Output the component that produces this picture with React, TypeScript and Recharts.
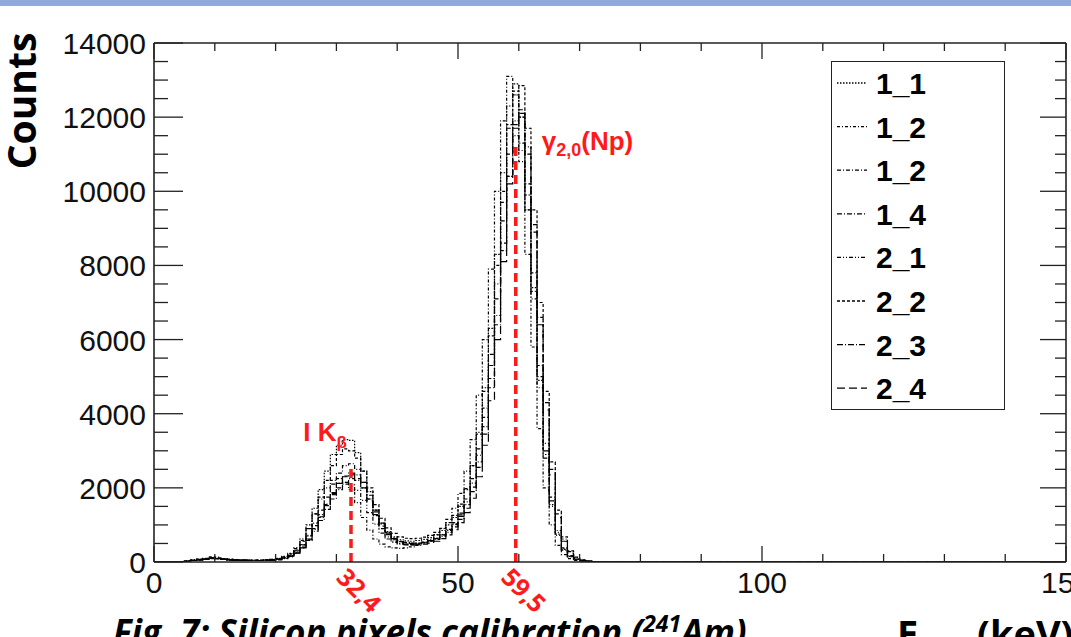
import React from "react";
import { LineChart, Line, XAxis, YAxis, ReferenceLine, Legend } from "recharts";

// Energy axis (keV): bin edges every 1 keV and tick positions
const energyTicks = [0, 10, 20, 30, 40, 50, 60, 70, 80, 90, 100, 110, 120, 130, 140, 150];
const countTicks = [
  0, 500, 1000, 1500, 2000, 2500, 3000, 3500, 4000, 4500, 5000, 5500, 6000, 6500, 7000,
  7500, 8000, 8500, 9000, 9500, 10000, 10500, 11000, 11500, 12000, 12500, 13000, 13500, 14000,
];

// Pixel names, as written in the legend
const pixelNames = ["1_1", "1_2", "1_2", "1_4", "2_1", "2_2", "2_3", "2_4"];

// Counts per 1 keV bin, bins 0..75 keV (nothing above)
const counts11 = [
  0, 0, 0, 0, 10, 30, 60, 70, 90, 120,
  100, 80, 70, 60, 50, 50, 40, 50, 60, 70,
  100, 150, 230, 380, 620, 1000, 1450, 1950, 2450, 2900,
  3150, 3300, 3280, 2950, 2450, 1900, 1400, 1050, 820, 680,
  600, 570, 560, 580, 610, 660, 740, 850, 1000, 1200,
  1500, 1950, 2600, 3500, 4700, 6300, 8300, 10500, 12300, 12900,
  12000, 9900, 7400, 4900, 2900, 1550, 750, 340, 150, 70,
  35, 20, 10, 5, 0, 0,
];
const counts12a = [
  0, 0, 0, 0, 0, 20, 40, 60, 70, 100,
  130, 90, 70, 60, 50, 40, 40, 40, 50, 50,
  70, 110, 180, 320, 560, 900, 1300, 1700, 2000, 2200,
  2250, 2150, 1950, 1600, 1200, 860, 620, 480, 410, 380,
  370, 380, 410, 450, 520, 610, 730, 900, 1150, 1450,
  1850, 2450, 3300, 4500, 6000, 7900, 10000, 11900, 13100, 12600,
  10800, 8300, 5800, 3600, 2000, 1000, 450, 200, 90, 40,
  20, 10, 5, 0, 0, 0,
];
const counts12b = [
  0, 0, 0, 0, 10, 20, 50, 60, 80, 110,
  90, 70, 60, 50, 40, 50, 40, 40, 50, 60,
  70, 110, 170, 280, 460, 720, 1050, 1400, 1750, 2100,
  2400, 2600, 2650, 2500, 2150, 1700, 1250, 900, 680, 560,
  500, 470, 470, 490, 520, 570, 640, 740, 880, 1060,
  1320, 1700, 2250, 3050, 4150, 5600, 7500, 9700, 11700, 12600,
  12000, 10200, 7800, 5300, 3200, 1750, 850, 380, 170, 80,
  40, 20, 10, 5, 0, 0,
];
const counts14 = [
  0, 0, 0, 0, 0, 20, 40, 50, 70, 90,
  80, 70, 50, 50, 40, 40, 40, 40, 40, 50,
  60, 90, 140, 230, 380, 600, 880, 1200, 1520, 1850,
  2120, 2320, 2400, 2350, 2150, 1800, 1400, 1050, 800, 650,
  570, 530, 510, 510, 530, 560, 610, 690, 800, 950,
  1150, 1450, 1900, 2550, 3450, 4700, 6400, 8400, 10400, 11800,
  12200, 11200, 9100, 6600, 4300, 2500, 1300, 620, 280, 120,
  50, 25, 10, 5, 0, 0,
];
const counts21 = [
  0, 0, 0, 0, 10, 30, 50, 70, 90, 120,
  100, 80, 60, 50, 50, 40, 50, 40, 50, 60,
  80, 120, 190, 300, 470, 700, 980, 1280, 1560, 1820,
  2000, 2100, 2080, 1930, 1660, 1330, 1020, 780, 620, 530,
  480, 460, 460, 480, 510, 560, 630, 730, 860, 1030,
  1270, 1620, 2130, 2880, 3900, 5300, 7100, 9200, 11000, 11900,
  11300, 9500, 7100, 4700, 2800, 1500, 720, 320, 140, 60,
  30, 15, 5, 0, 0, 0,
];
const counts22 = [
  0, 0, 0, 0, 10, 30, 50, 80, 100, 140,
  110, 90, 70, 60, 60, 50, 50, 50, 60, 70,
  90, 140, 220, 360, 580, 900, 1300, 1750, 2200, 2600,
  2900, 3050, 3000, 2800, 2450, 2000, 1550, 1180, 920, 770,
  680, 640, 630, 640, 670, 720, 800, 910, 1060, 1260,
  1560, 1980, 2600, 3450, 4600, 6100, 8000, 10000, 11800, 12700,
  12850, 11700, 9500, 7000, 4600, 2700, 1400, 680, 300, 130,
  60, 25, 10, 5, 0, 0,
];
const counts23 = [
  0, 0, 0, 0, 0, 20, 40, 60, 70, 100,
  90, 70, 60, 50, 40, 40, 40, 40, 40, 50,
  70, 100, 150, 240, 380, 580, 830, 1120, 1420, 1700,
  1950, 2150, 2250, 2200, 2000, 1700, 1350, 1020, 780, 630,
  550, 510, 500, 510, 540, 580, 640, 730, 850, 1010,
  1230, 1550, 2020, 2700, 3650, 4950, 6650, 8600, 10400, 11500,
  11100, 9500, 7300, 5000, 3000, 1650, 800, 360, 160, 70,
  30, 15, 5, 0, 0, 0,
];
const counts24 = [
  0, 0, 0, 0, 10, 20, 40, 60, 80, 110,
  90, 70, 60, 50, 50, 40, 40, 40, 50, 60,
  80, 110, 160, 250, 400, 620, 900, 1220, 1550, 1870,
  2120, 2300, 2350, 2250, 2000, 1650, 1280, 970, 740, 600,
  520, 480, 460, 460, 480, 510, 560, 630, 730, 870,
  1060, 1330, 1720, 2300, 3150, 4350, 6000, 8100, 10200, 11700,
  12100, 11000, 8900, 6400, 4100, 2350, 1200, 560, 240, 100,
  45, 20, 10, 5, 0, 0,
];

// Reference energies marked on the spectrum (keV) and marker heights (counts)
const kBetaEnergy = 32.4;
const kBetaLabel = "32,4";
const kBetaMarkTop = 2550;
const gammaEnergy = 59.5;
const gammaLabel = "59,5";
const gammaMarkTop = 11300;

const pixelCounts = [counts11, counts12a, counts12b, counts14, counts21, counts22, counts23, counts24];
const lineDashes = ["1.5 1.5", "3 2 1 2", "4 2 1 2", "5 2 1 2", "4 2 1 2 1 2", "3 2", "6 2 1 2", "8 4"];

const binEdges = Array.from({ length: 151 }, (_, i) => i);
const spectrum = binEdges.map((e) => {
  const row: Record<string, number> = { e };
  pixelCounts.forEach((c, k) => {
    row[`s${k}`] = c[e] ?? 0;
  });
  return row;
});

const FRAME = "#222";
const RED = "#ff1a1a";
const TICK_FONT = "'Liberation Sans', Arial, sans-serif";
const CALIBRI_LIKE = "'Open Sans', 'Noto Sans', sans-serif";

function BottomTick(props: any) {
  const { x, y, payload } = props;
  const major = payload.value % 50 === 0;
  return (
    <g>
      <line x1={x} x2={x} y1={y} y2={y - (major ? 16 : 8)} stroke={FRAME} strokeWidth={1.3} />
      {major && (
        <text x={x} y={y + 31} textAnchor="middle" fontSize={30} fontFamily={TICK_FONT} fill="#111">
          {payload.value}
        </text>
      )}
    </g>
  );
}

function TopTick(props: any) {
  const { x, y, payload } = props;
  const major = payload.value % 50 === 0;
  return <line x1={x} x2={x} y1={y} y2={y + (major ? 16 : 8)} stroke={FRAME} strokeWidth={1.3} />;
}

function LeftTick(props: any) {
  const { x, y, payload } = props;
  const major = payload.value % 2000 === 0;
  return (
    <g>
      <line x1={x} x2={x + (major ? 29 : 14)} y1={y} y2={y} stroke={FRAME} strokeWidth={1.3} />
      {major && (
        <text x={x - 8} y={y + 11} textAnchor="end" fontSize={30} fontFamily={TICK_FONT} fill="#111">
          {payload.value}
        </text>
      )}
    </g>
  );
}

function RightTick(props: any) {
  const { x, y, payload } = props;
  const major = payload.value % 2000 === 0;
  return <line x1={x} x2={x - (major ? 26 : 11)} y1={y} y2={y} stroke={FRAME} strokeWidth={1.3} />;
}

// rotated energy value under the axis
function EnergyValue({ x, y, text }: { x: number; y: number; text: string }) {
  return (
    <text
      transform={`translate(${x - 16},${y + 17}) rotate(45)`}
      fontSize={25}
      fontWeight="bold"
      fontFamily={CALIBRI_LIKE}
      fill={RED}
    >
      {text}
    </text>
  );
}

function KBetaLabel(props: any) {
  const { x, y, height } = props.viewBox;
  return (
    <g>
      <text x={x - 4} y={y - 26} textAnchor="end" fontSize={26} fontWeight="bold" fontFamily={TICK_FONT} fill={RED}>
        I K<tspan fontSize={17} dy={7}>β</tspan>
      </text>
      <EnergyValue x={x} y={y + height} text={kBetaLabel} />
    </g>
  );
}

function GammaLabel(props: any) {
  const { x, y, height } = props.viewBox;
  return (
    <g>
      <text x={x + 26} y={y + 7} fontSize={26} fontWeight="bold" fontFamily={TICK_FONT} fill={RED}>
        γ<tspan fontSize={18} dy={6}>2,0</tspan>
        <tspan dy={-6}>(Np)</tspan>
      </text>
      <EnergyValue x={x} y={y + height} text={gammaLabel} />
    </g>
  );
}

function PixelLegend() {
  return (
    <div style={{ width: 174, height: 349, border: `1.5px solid ${FRAME}`, boxSizing: "border-box", background: "#fff" }}>
      <svg width={171} height={346}>
        {pixelNames.map((name, i) => {
          const cy = 21 + i * 43.6;
          return (
            <g key={i}>
              <line x1={5} x2={35} y1={cy} y2={cy} stroke="#000" strokeWidth={1.3} strokeDasharray={lineDashes[i]} />
              <text x={44} y={cy + 11} fontSize={30} fontWeight="bold" fontFamily={TICK_FONT} fill="#000">
                {name}
              </text>
            </g>
          );
        })}
      </svg>
    </div>
  );
}

export default function App() {
  return (
    <div style={{ position: "absolute", left: 0, top: 0, width: 1071, height: 637, overflow: "hidden", background: "#fff" }}>
      <div style={{ position: "absolute", left: 0, top: 0, width: 1071, height: 6, background: "#8faadc" }} />
      <LineChart width={1071} height={637} data={spectrum} margin={{ top: 42, right: 0, bottom: 0, left: 0 }}>
        <XAxis
          dataKey="e"
          type="number"
          domain={[0, 150]}
          ticks={energyTicks}
          interval={0}
          height={75}
          tickSize={0}
          tickMargin={0}
          tickLine={false}
          axisLine={{ stroke: FRAME, strokeWidth: 1.6 }}
          tick={<BottomTick />}
        />
        <XAxis
          xAxisId="top"
          orientation="top"
          dataKey="e"
          type="number"
          domain={[0, 150]}
          ticks={energyTicks}
          interval={0}
          height={1}
          tickSize={0}
          tickMargin={0}
          tickLine={false}
          axisLine={{ stroke: FRAME, strokeWidth: 1.6 }}
          tick={<TopTick />}
        />
        <YAxis
          type="number"
          domain={[0, 14000]}
          allowDataOverflow
          ticks={countTicks}
          interval={0}
          width={154}
          tickSize={0}
          tickMargin={0}
          tickLine={false}
          axisLine={{ stroke: FRAME, strokeWidth: 1.6 }}
          tick={<LeftTick />}
        />
        <YAxis
          yAxisId="right"
          orientation="right"
          type="number"
          domain={[0, 14000]}
          allowDataOverflow
          ticks={countTicks}
          interval={0}
          width={5}
          tickSize={0}
          tickMargin={0}
          tickLine={false}
          axisLine={{ stroke: FRAME, strokeWidth: 1.6 }}
          tick={<RightTick />}
        />
        <Legend
          layout="horizontal"
          verticalAlign="middle"
          align="center"
          content={<PixelLegend />}
          wrapperStyle={{ position: "absolute", left: 831, top: 61, width: 174, height: 349 }}
        />
        {pixelNames.map((name, k) => (
          <Line
            key={k}
            name={name}
            dataKey={`s${k}`}
            type="stepAfter"
            stroke="#000"
            strokeWidth={1.2}
            strokeDasharray={lineDashes[k]}
            dot={false}
            activeDot={false}
            isAnimationActive={false}
          />
        ))}
        <ReferenceLine
          segment={[{ x: kBetaEnergy, y: 0 }, { x: kBetaEnergy, y: kBetaMarkTop }]}
          stroke={RED}
          strokeWidth={3.5}
          strokeDasharray="9 5"
          label={<KBetaLabel />}
        />
        <ReferenceLine
          segment={[{ x: gammaEnergy, y: 0 }, { x: gammaEnergy, y: gammaMarkTop }]}
          stroke={RED}
          strokeWidth={3.5}
          strokeDasharray="9 5"
          label={<GammaLabel />}
        />
      </LineChart>
      <svg width={1071} height={637} style={{ position: "absolute", left: 0, top: 0, pointerEvents: "none" }}>
        <text
          transform="translate(36,101) rotate(-90)"
          textAnchor="middle"
          fontSize={39}
          fontWeight="bold"
          fontFamily={CALIBRI_LIKE}
          fill="#000"
        >
          Counts
        </text>
        <text x={113} y={645} fontSize={35} fontWeight="bold" fontStyle="italic" fontFamily={CALIBRI_LIKE} fill="#000">
          Fig. 7: Silicon pixels calibration (<tspan dy={-13} fontSize={23}>241</tspan>
          <tspan dy={13}>Am)</tspan>
        </text>
        <text x={897} y={648} fontSize={38} fontWeight="bold" fontFamily={CALIBRI_LIKE} fill="#000">
          E
        </text>
        <text x={977} y={648} fontSize={38} fontWeight="bold" fontFamily={CALIBRI_LIKE} fill="#000">
          (keV)
        </text>
      </svg>
    </div>
  );
}
